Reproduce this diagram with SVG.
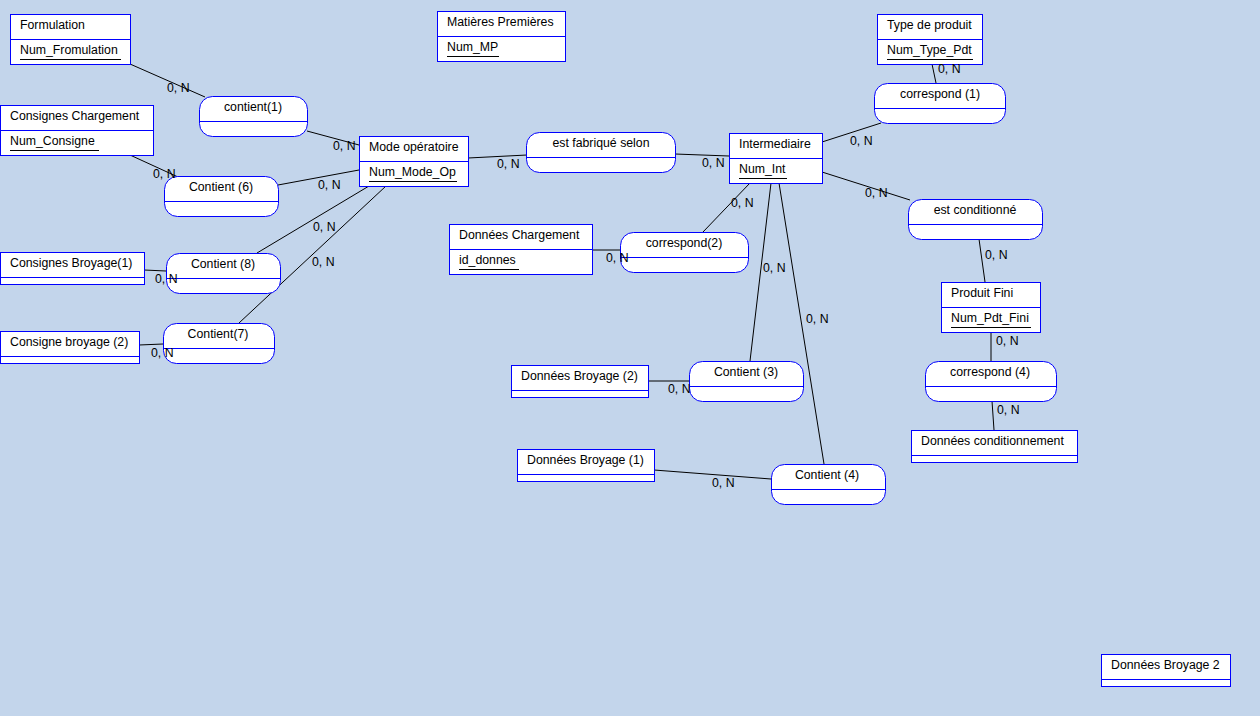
<svg xmlns="http://www.w3.org/2000/svg" width="1260" height="716" viewBox="0 0 1260 716">
<style>
text{font-family:"Liberation Sans",Arial,sans-serif;font-size:12.3px;fill:#000}
.box{fill:#fff;stroke:#0000ff;stroke-width:1}
.div{stroke:#0000ff;stroke-width:1}
.ul{stroke:#000;stroke-width:1}
.rel text{text-anchor:middle}
#connectors line{stroke:#000;stroke-width:1}
</style>
<rect width="1260" height="716" fill="#c3d5eb"/>
<g id="connectors">
<line x1="130" y1="64" x2="205" y2="97"/>
<line x1="307" y1="131" x2="359" y2="145"/>
<line x1="130" y1="155" x2="178" y2="177"/>
<line x1="278" y1="185" x2="359" y2="170"/>
<line x1="369" y1="186" x2="257" y2="253"/>
<line x1="386" y1="186" x2="239" y2="323"/>
<line x1="144" y1="270" x2="166" y2="271"/>
<line x1="139" y1="345" x2="163" y2="344"/>
<line x1="468" y1="158" x2="527" y2="155"/>
<line x1="675" y1="154" x2="729" y2="156"/>
<line x1="822" y1="142" x2="881" y2="123"/>
<line x1="932" y1="64" x2="936" y2="83"/>
<line x1="822" y1="172" x2="910" y2="200"/>
<line x1="979" y1="239" x2="985" y2="282"/>
<line x1="991" y1="332" x2="991" y2="361"/>
<line x1="992" y1="401" x2="994" y2="430"/>
<line x1="750" y1="183" x2="703" y2="232"/>
<line x1="771" y1="183" x2="750" y2="361"/>
<line x1="779" y1="183" x2="824" y2="464"/>
<line x1="592" y1="250" x2="620" y2="250"/>
<line x1="648" y1="381" x2="689" y2="381"/>
<line x1="654" y1="470" x2="771" y2="479"/>
</g>
<g id="formulation"><rect class="box" x="10.5" y="14.5" width="120" height="50"/><line class="div" x1="10.5" y1="39.5" x2="130.5" y2="39.5"/><text x="20" y="29">Formulation</text><text x="20" y="54">Num_Fromulation</text><line class="ul" x1="20" y1="59.5" x2="121" y2="59.5"/></g>
<g id="consignes-chargement"><rect class="box" x="0.5" y="105.5" width="153" height="50"/><line class="div" x1="0.5" y1="130.5" x2="153.5" y2="130.5"/><text x="10" y="120">Consignes Chargement</text><text x="10" y="145">Num_Consigne</text><line class="ul" x1="10" y1="150.5" x2="99" y2="150.5"/></g>
<g id="matieres-premieres"><rect class="box" x="437.5" y="11.5" width="128" height="50"/><line class="div" x1="437.5" y1="36.5" x2="565.5" y2="36.5"/><text x="447" y="26">Matières Premières</text><text x="447" y="51">Num_MP</text><line class="ul" x1="447" y1="56.5" x2="499" y2="56.5"/></g>
<g id="mode-operatoire"><rect class="box" x="359.5" y="136.5" width="109" height="50"/><line class="div" x1="359.5" y1="161.5" x2="468.5" y2="161.5"/><text x="369" y="151">Mode opératoire</text><text x="369" y="176">Num_Mode_Op</text><line class="ul" x1="369" y1="181.5" x2="457" y2="181.5"/></g>
<g id="intermediaire"><rect class="box" x="729.5" y="133.5" width="93" height="50"/><line class="div" x1="729.5" y1="158.5" x2="822.5" y2="158.5"/><text x="739" y="148">Intermediaire</text><text x="739" y="173">Num_Int</text><line class="ul" x1="739" y1="178.5" x2="787" y2="178.5"/></g>
<g id="type-produit"><rect class="box" x="877.5" y="14.5" width="105" height="50"/><line class="div" x1="877.5" y1="39.5" x2="982.5" y2="39.5"/><text x="887" y="29">Type de produit</text><text x="887" y="54">Num_Type_Pdt</text><line class="ul" x1="887" y1="59.5" x2="973" y2="59.5"/></g>
<g id="donnees-chargement"><rect class="box" x="449.5" y="224.5" width="143" height="50"/><line class="div" x1="449.5" y1="249.5" x2="592.5" y2="249.5"/><text x="459" y="239">Données Chargement</text><text x="459" y="264">id_donnes</text><line class="ul" x1="459" y1="269.5" x2="519" y2="269.5"/></g>
<g id="produit-fini"><rect class="box" x="941.5" y="282.5" width="99" height="50"/><line class="div" x1="941.5" y1="307.5" x2="1040.5" y2="307.5"/><text x="951" y="297">Produit Fini</text><text x="951" y="322">Num_Pdt_Fini</text><line class="ul" x1="951" y1="327.5" x2="1031" y2="327.5"/></g>
<g id="consignes-broyage-1"><rect class="box" x="0.5" y="252.5" width="144" height="32"/><line class="div" x1="0.5" y1="277.5" x2="144.5" y2="277.5"/><text x="10" y="267">Consignes Broyage(1)</text></g>
<g id="consigne-broyage-2"><rect class="box" x="0.5" y="331.5" width="139" height="32"/><line class="div" x1="0.5" y1="356.5" x2="139.5" y2="356.5"/><text x="10" y="346">Consigne broyage (2)</text></g>
<g id="donnees-broyage-2"><rect class="box" x="511.5" y="365.5" width="137" height="32"/><line class="div" x1="511.5" y1="390.5" x2="648.5" y2="390.5"/><text x="521" y="380">Données Broyage (2)</text></g>
<g id="donnees-broyage-1"><rect class="box" x="517.5" y="449.5" width="137" height="32"/><line class="div" x1="517.5" y1="474.5" x2="654.5" y2="474.5"/><text x="527" y="464">Données Broyage (1)</text></g>
<g id="donnees-conditionnement"><rect class="box" x="911.5" y="430.5" width="166" height="32"/><line class="div" x1="911.5" y1="455.5" x2="1077.5" y2="455.5"/><text x="921" y="445">Données conditionnement</text></g>
<g id="donnees-broyage-2b"><rect class="box" x="1101.5" y="654.5" width="129" height="32"/><line class="div" x1="1101.5" y1="679.5" x2="1230.5" y2="679.5"/><text x="1111" y="669">Données Broyage 2</text></g>
<g id="contient1" class="rel"><rect class="box" x="199.5" y="96.5" width="108" height="40" rx="13"/><line class="div" x1="199.5" y1="121.5" x2="307.5" y2="121.5"/><text x="253" y="111">contient(1)</text></g>
<g id="contient6" class="rel"><rect class="box" x="164.5" y="176.5" width="114" height="40" rx="13"/><line class="div" x1="164.5" y1="201.5" x2="278.5" y2="201.5"/><text x="221" y="191">Contient (6)</text></g>
<g id="est-fabrique-selon" class="rel"><rect class="box" x="526.5" y="132.5" width="149" height="40" rx="13"/><line class="div" x1="526.5" y1="157.5" x2="675.5" y2="157.5"/><text x="601" y="147">est fabriqué selon</text></g>
<g id="correspond1" class="rel"><rect class="box" x="874.5" y="83.5" width="131" height="40" rx="13"/><line class="div" x1="874.5" y1="108.5" x2="1005.5" y2="108.5"/><text x="940" y="98">correspond (1)</text></g>
<g id="est-conditionne" class="rel"><rect class="box" x="908.5" y="199.5" width="134" height="40" rx="13"/><line class="div" x1="908.5" y1="224.5" x2="1042.5" y2="224.5"/><text x="975" y="214">est conditionné</text></g>
<g id="contient8" class="rel"><rect class="box" x="166.5" y="253.5" width="114" height="40" rx="13"/><line class="div" x1="166.5" y1="278.5" x2="280.5" y2="278.5"/><text x="223" y="268">Contient (8)</text></g>
<g id="contient7" class="rel"><rect class="box" x="163.5" y="323.5" width="111" height="40" rx="13"/><line class="div" x1="163.5" y1="348.5" x2="274.5" y2="348.5"/><text x="218" y="338">Contient(7)</text></g>
<g id="correspond2" class="rel"><rect class="box" x="620.5" y="232.5" width="128" height="40" rx="13"/><line class="div" x1="620.5" y1="257.5" x2="748.5" y2="257.5"/><text x="684" y="247">correspond(2)</text></g>
<g id="contient3" class="rel"><rect class="box" x="689.5" y="361.5" width="114" height="40" rx="13"/><line class="div" x1="689.5" y1="386.5" x2="803.5" y2="386.5"/><text x="746" y="376">Contient (3)</text></g>
<g id="correspond4" class="rel"><rect class="box" x="925.5" y="361.5" width="131" height="40" rx="13"/><line class="div" x1="925.5" y1="386.5" x2="1056.5" y2="386.5"/><text x="990" y="376">correspond (4)</text></g>
<g id="contient4" class="rel"><rect class="box" x="771.5" y="464.5" width="114" height="40" rx="13"/><line class="div" x1="771.5" y1="489.5" x2="885.5" y2="489.5"/><text x="827" y="479">Contient (4)</text></g>
<g id="cardinalities">
<text x="167" y="92">0, N</text>
<text x="333" y="150">0, N</text>
<text x="153" y="178">0, N</text>
<text x="318" y="189">0, N</text>
<text x="313" y="231">0, N</text>
<text x="312" y="266">0, N</text>
<text x="155" y="283">0, N</text>
<text x="151" y="357">0, N</text>
<text x="497" y="168">0, N</text>
<text x="702" y="167">0, N</text>
<text x="850" y="145">0, N</text>
<text x="938" y="73">0, N</text>
<text x="865" y="197">0, N</text>
<text x="985" y="259">0, N</text>
<text x="996" y="345">0, N</text>
<text x="997" y="414">0, N</text>
<text x="731" y="207">0, N</text>
<text x="763" y="272">0, N</text>
<text x="806" y="323">0, N</text>
<text x="606" y="262">0, N</text>
<text x="668" y="393">0, N</text>
<text x="712" y="487">0, N</text>
</g>
</svg>
